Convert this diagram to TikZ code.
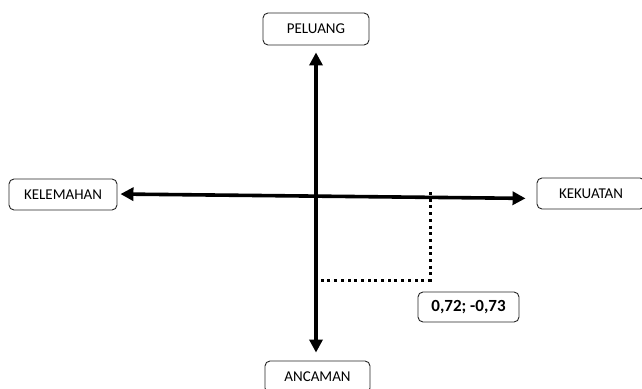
\documentclass[tikz,border=0pt]{standalone}
\usepackage{fontspec}
\setmainfont{Carlito}
\usetikzlibrary{arrows.meta}
\begin{document}
\begin{tikzpicture}[x=1pt,y=-1pt,
  lbl/.style={draw=black!85, line width=0.9pt, rounded corners=5pt, fill=white,
    inner sep=0pt, font=\fontsize{15}{17}\selectfont},
  axis/.style={line width=3.6pt, {Triangle[width=13pt,length=13pt]}-{Triangle[width=13pt,length=13pt]}},
  dots/.style={line width=3pt, dash pattern=on 3pt off 3.7pt}]
\useasboundingbox (0,0) rectangle (642,388);
\node[lbl, minimum width=106pt, minimum height=32pt] (pel) at (316,29) {PELUANG};
\node[lbl, minimum width=105pt, minimum height=32pt] (anc) at (317.5,377) {ANCAMAN};
\node[lbl, minimum width=108pt, minimum height=31pt] (kel) at (63,194.5) {KELEMAHAN};
\node[lbl, minimum width=108pt, minimum height=31pt] (kek) at (591,193.5) {KEKUATAN};
\node[lbl, minimum width=101pt, minimum height=30pt, font=\fontsize{17}{19}\selectfont\bfseries] (val) at (468.5,307) {0,72; -0,73};
\draw[axis, shorten <=7pt, shorten >=8pt] (pel.south) -- ([xshift=-1.5pt]anc.north);
\draw[axis, shorten <=3pt, shorten >=11pt] ([yshift=0.5pt]kel.east) -- ([yshift=-5pt]kek.west);
\coordinate (c) at (430,280);
\draw[dots] (430,192) -- (c) -- (318,280);
\end{tikzpicture}
\end{document}
